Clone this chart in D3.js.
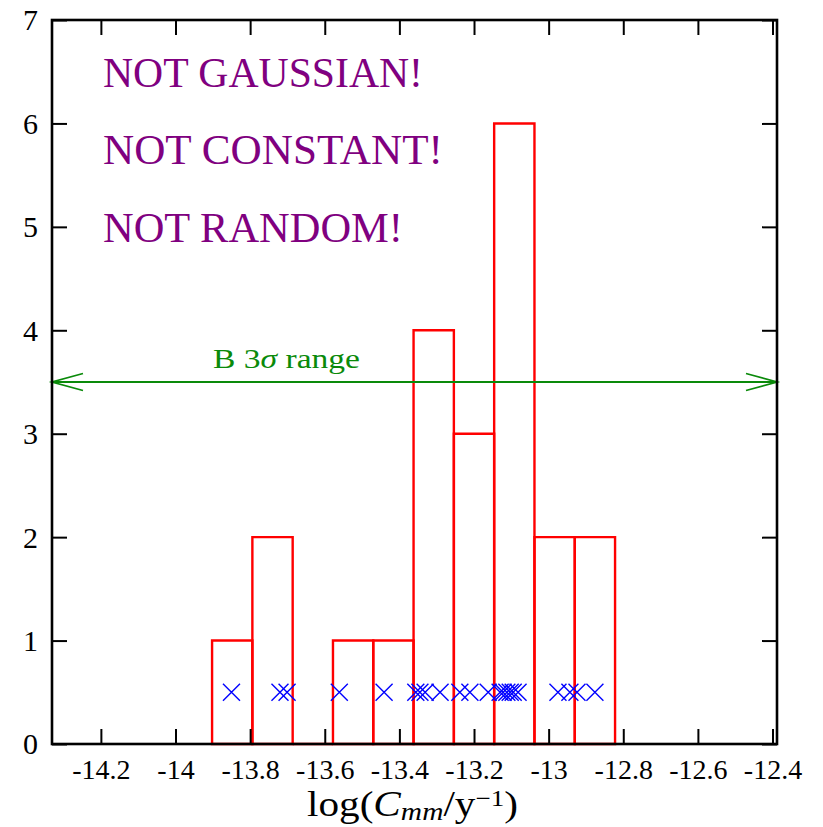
<!DOCTYPE html>
<html><head><meta charset="utf-8">
<script src="https://cdn.jsdelivr.net/npm/d3@7"></script>
<style>body{margin:0;background:#fff}svg{display:block}
svg text{font-family:"Liberation Serif","DejaVu Serif","Times New Roman",serif;}
</style>
</head><body>
<svg id="c" width="823" height="827"></svg>
<script>
// ---- data ----
const xTicks = [-14.2, -14, -13.8, -13.6, -13.4, -13.2, -13, -12.8, -12.6, -12.4];
const yTicks = [0, 1, 2, 3, 4, 5, 6, 7];
const binEdges = [-13.902, -13.794, -13.686, -13.578, -13.470, -13.362, -13.254, -13.146, -13.038, -12.930, -12.822];
const binCounts = [1, 2, 0, 1, 1, 4, 3, 6, 2, 2];
const points = [-13.850, -13.720, -13.701, -13.561, -13.441,
  -13.356, -13.345, -13.331, -13.291,
  -13.238, -13.211, -13.162,
  -13.130, -13.122, -13.112, -13.103, -13.095, -13.082,
  -12.975, -12.943, -12.924, -12.876];
const pointLevel = 0.5;
const xDomain = [-14.331, -12.388];
const yDomain = [0, 7];
const rangeB = [-14.331, -12.388];
const rangeLevel = 3.5;
const notes = ["NOT GAUSSIAN!", "NOT CONSTANT!", "NOT RANDOM!"];

// ---- layout ----
const L = 52, R = 777, T = 20, B = 744;
const svg = d3.select("#c");
const x = d3.scaleLinear().domain(xDomain).range([L, R]);
const y = d3.scaleLinear().domain(yDomain).range([B, T]);

// bars
svg.append("g").selectAll("path").data(binCounts).join("path")
  .attr("d", (c, i) => {
    const x0 = x(binEdges[i]), x1 = x(binEdges[i + 1]);
    return `M${x0},${y(0)}V${y(c)}H${x1}V${y(0)}Z`;
  })
  .attr("fill", "none").attr("stroke", "#ff0000").attr("stroke-width", 2.4);

// crosses
const s = 8.5;
svg.append("g").selectAll("path").data(points).join("path")
  .attr("transform", d => `translate(${x(d)},${y(pointLevel)})`)
  .attr("d", `M${-s},${-s}L${s},${s}M${-s},${s}L${s},${-s}`)
  .attr("stroke", "#0000ff").attr("stroke-width", 1.4).attr("fill", "none");

// range arrow
const ay = y(rangeLevel), ax0 = x(rangeB[0]), ax1 = x(rangeB[1]);
const ga = svg.append("g").attr("stroke", "#0a8a0a").attr("stroke-width", 1.8).attr("fill", "none");
ga.append("line").attr("x1", ax0).attr("x2", ax1).attr("y1", ay).attr("y2", ay);
ga.append("path").attr("d", `M${ax0 + 31},${ay - 8.5}L${ax0},${ay}L${ax0 + 31},${ay + 8.5}`);
ga.append("path").attr("d", `M${ax1 - 31},${ay - 8.5}L${ax1},${ay}L${ax1 - 31},${ay + 8.5}`);
const bt = svg.append("text").attr("x", 213).attr("y", 368)
  .attr("font-size", 28).attr("fill", "#0a8a0a")
  .attr("textLength", 147).attr("lengthAdjust", "spacingAndGlyphs");
bt.append("tspan").text("B 3");
bt.append("tspan").attr("font-style", "italic").text("σ");
bt.append("tspan").text(" range");

// notes
const noteLen = [320, 340, 300];
svg.append("g").selectAll("text").data(notes).join("text")
  .attr("x", 103).attr("y", (d, i) => 87 + i * 77.3)
  .attr("font-size", 43).attr("fill", "#800080")
  .attr("textLength", (d, i) => noteLen[i]).attr("lengthAdjust", "spacingAndGlyphs")
  .text(d => d);

// axes
const fmt = d => String(d);
const gx = svg.append("g").attr("transform", `translate(0,${B})`)
  .call(d3.axisBottom(x).tickValues(xTicks).tickSize(-15).tickFormat(fmt));
gx.selectAll("text").attr("dy", 0).attr("y", 35);
const gxt = svg.append("g").attr("transform", `translate(0,${T})`)
  .call(d3.axisTop(x).tickValues(xTicks).tickSize(-15).tickFormat(""));
const gy = svg.append("g").attr("transform", `translate(${L},0)`)
  .call(d3.axisLeft(y).tickValues(yTicks).tickSize(-15).tickPadding(14).tickFormat(fmt));
gy.selectAll("text").attr("dy", "0.33em");
const gyr = svg.append("g").attr("transform", `translate(${R},0)`)
  .call(d3.axisRight(y).tickValues(yTicks).tickSize(-15).tickFormat(""));
[gx, gxt, gy, gyr].forEach(g => {
  g.attr("font-family", null);
  g.select(".domain").remove();
  g.selectAll("line").attr("stroke", "#000").attr("stroke-width", 2);
  g.selectAll("text").attr("fill", "#000");
});
gx.selectAll("text").attr("font-size", 28);
gy.selectAll("text").attr("font-size", 30);

// frame
svg.append("rect").attr("x", L).attr("y", T).attr("width", R - L).attr("height", B - T)
  .attr("fill", "none").attr("stroke", "#000").attr("stroke-width", 2.6);

// x-axis title
const xt = svg.append("text").attr("x", 307).attr("y", 816)
  .attr("font-size", 35).attr("fill", "#000")
  .attr("textLength", 211).attr("lengthAdjust", "spacingAndGlyphs");
xt.append("tspan").text("log(");
xt.append("tspan").attr("font-style", "italic").text("C");
xt.append("tspan").attr("font-style", "italic").attr("font-size", 25).attr("dy", 4).text("mm");
xt.append("tspan").attr("dy", -4).text("/y");
xt.append("tspan").attr("font-size", 23).attr("dy", -10).text("−1");
xt.append("tspan").attr("dy", 10).text(")");
</script>
</body></html>
